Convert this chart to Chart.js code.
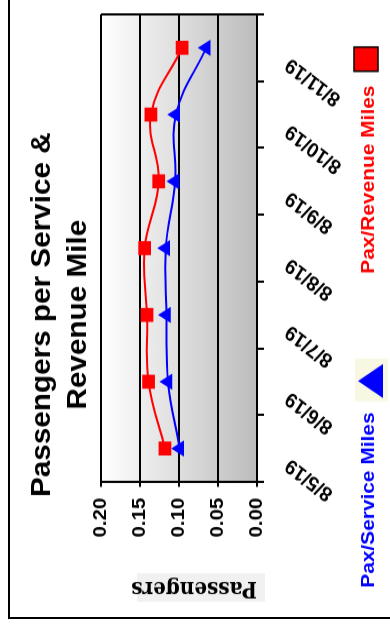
<!DOCTYPE html>
<html>
<head>
<meta charset="utf-8">
<script src="https://cdn.jsdelivr.net/npm/chart.js@4/dist/chart.umd.min.js"></script>
<style>
  html, body { margin: 0; padding: 0; background: #fff; }
  body { width: 390px; height: 626px; position: relative; overflow: hidden; }
  #frame { position: absolute; left: 8px; top: 0; width: 382px; height: 619px; border-left: 2px solid #000; border-bottom: 2px solid #000; box-sizing: border-box; }
  /* the chart is drawn landscape, then turned a quarter to the left */
  #turn { position: absolute; left: 0; top: 0; width: 569px; height: 390px; transform-origin: 0 0; transform: translate(0, 626px) rotate(-90deg) scale(1.1, 1); }
</style>
</head>
<body>
<div id="frame"></div>
<div id="turn"><canvas id="paxChart" width="569" height="390"></canvas></div>
<script>
const dates = ['8/5/19', '8/6/19', '8/7/19', '8/8/19', '8/9/19', '8/10/19', '8/11/19'];
const paxPerServiceMile = [0.099, 0.114, 0.116, 0.117, 0.105, 0.104, 0.065];
const paxPerRevenueMile = [0.118, 0.139, 0.141, 0.144, 0.126, 0.136, 0.096];
const valueMin = 0;
const valueMax = 0.2;
const valueStep = 0.05;

const fontFamily = '"Liberation Sans", Arial, sans-serif';

// grey gradient behind the plot + closing line on the right side
const plotBackground = {
  id: 'plotBackground',
  beforeDraw(chart) {
    const { ctx, chartArea: a, scales } = chart;
    const g = ctx.createLinearGradient(0, a.top, 0, a.bottom);
    g.addColorStop(0, '#ffffff');
    g.addColorStop(1, '#bcbcbc');
    ctx.save();
    ctx.fillStyle = g;
    ctx.fillRect(a.left, a.top, a.right - a.left, a.bottom - a.top);
    // faint box behind the axis title
    const tx = scales.y.left + 25;
    ctx.fillStyle = '#f1f1f1';
    ctx.fillRect(tx - 13, a.bottom - 120, 26, 128);
    ctx.restore();
  },
  afterDraw(chart) {
    const { ctx, chartArea: a } = chart;
    ctx.save();
    ctx.strokeStyle = '#000';
    ctx.lineWidth = 2;
    ctx.beginPath();
    ctx.moveTo(a.right, a.top);
    ctx.lineTo(a.right, a.bottom);
    ctx.stroke();
    ctx.restore();
  }
};

// legend with the marker after the text, text in the series colour
const sideLegend = {
  id: 'sideLegend',
  afterDraw(chart) {
    const { ctx } = chart;
    const ds = chart.data.datasets;
    const gap = 13, between = 82;
    const markW = [31, 22];
    ctx.save();
    ctx.font = 'bold 19px ' + fontFamily;
    ctx.textBaseline = 'middle';
    ctx.textAlign = 'left';
    const widths = ds.map(d => ctx.measureText(d.label).width);
    const total = widths[0] + gap + markW[0] + between + widths[1] + gap + markW[1];
    let x = chart.width / 2 - 4 - total / 2;
    const cy = chart.height - 21;
    ds.forEach((d, i) => {
      ctx.fillStyle = d.borderColor;
      ctx.fillText(d.label, x, cy);
      const mx = x + widths[i] + gap;
      if (d.pointStyle === 'triangle') {
        ctx.fillStyle = '#f8f8e2';
        ctx.fillRect(mx - 3, cy - 14, markW[i] + 8, 33);
        ctx.fillStyle = d.borderColor;
        ctx.beginPath();
        ctx.moveTo(mx + markW[i] / 2, cy - 11);
        ctx.lineTo(mx + markW[i], cy + 14);
        ctx.lineTo(mx, cy + 14);
        ctx.closePath();
        ctx.fill();
      } else {
        ctx.fillStyle = d.borderColor;
        ctx.fillRect(mx, cy - 15, markW[i], 24);
        ctx.strokeStyle = '#000';
        ctx.lineWidth = 1.5;
        ctx.strokeRect(mx, cy - 15, markW[i], 24);
      }
      x = mx + markW[i] + between;
    });
    ctx.restore();
  }
};

new Chart(document.getElementById('paxChart'), {
  type: 'line',
  data: {
    labels: dates,
    datasets: [
      {
        label: 'Pax/Service Miles',
        data: paxPerServiceMile,
        borderColor: '#0000ff',
        backgroundColor: '#0000ff',
        borderWidth: 2,
        pointStyle: 'triangle',
        pointRadius: 8.5,
        pointBorderWidth: 0,
        tension: 0.4
      },
      {
        label: 'Pax/Revenue Miles',
        data: paxPerRevenueMile,
        borderColor: '#ff0000',
        backgroundColor: '#ff0000',
        borderWidth: 2,
        pointStyle: 'rect',
        pointRadius: 9,
        pointBorderWidth: 0,
        tension: 0.4
      }
    ]
  },
  options: {
    responsive: false,
    animation: false,
    devicePixelRatio: 1,
    font: { family: fontFamily },
    layout: { padding: { top: 10, left: 10, right: 13, bottom: 0 } },
    plugins: {
      legend: { display: false },
      tooltip: { enabled: false },
      title: {
        display: true,
        text: ['Passengers per Service &', 'Revenue Mile'],
        color: '#000',
        font: { family: fontFamily, size: 27, weight: 'bold', lineHeight: 1.333 },
        padding: { top: 14.5, bottom: 4.5 }
      }
    },
    scales: {
      x: {
        offset: true,
        grid: { display: true, drawOnChartArea: false, color: '#000', lineWidth: 2, tickLength: 7, offset: true },
        border: { display: true, color: '#000', width: 2 },
        ticks: {
          color: '#000',
          font: { family: fontFamily, size: 19, weight: 'bold' },
          minRotation: 55,
          maxRotation: 55,
          autoSkip: false,
          padding: 17,
          labelOffset: -13
        },
        afterFit(scale) { scale.height = 133; }
      },
      y: {
        min: valueMin,
        max: valueMax,
        ticks: {
          stepSize: valueStep,
          color: '#000',
          font: { family: fontFamily, size: 18.5, weight: 'bold' },
          padding: 10,
          callback: v => v.toFixed(2)
        },
        grid: { color: '#000', lineWidth: 2, tickLength: 4.5 },
        border: { color: '#000', width: 2 },
        title: {
          display: true,
          text: 'Passengers',
          align: 'start',
          color: '#000',
          font: { family: 'DejaVu Serif', size: 20, weight: 'bold', lineHeight: 1.2 },
          padding: { top: 13, bottom: 0 }
        },
        afterFit(scale) { scale.width = 121; }
      }
    }
  },
  plugins: [plotBackground, sideLegend]
});
</script>
</body>
</html>
